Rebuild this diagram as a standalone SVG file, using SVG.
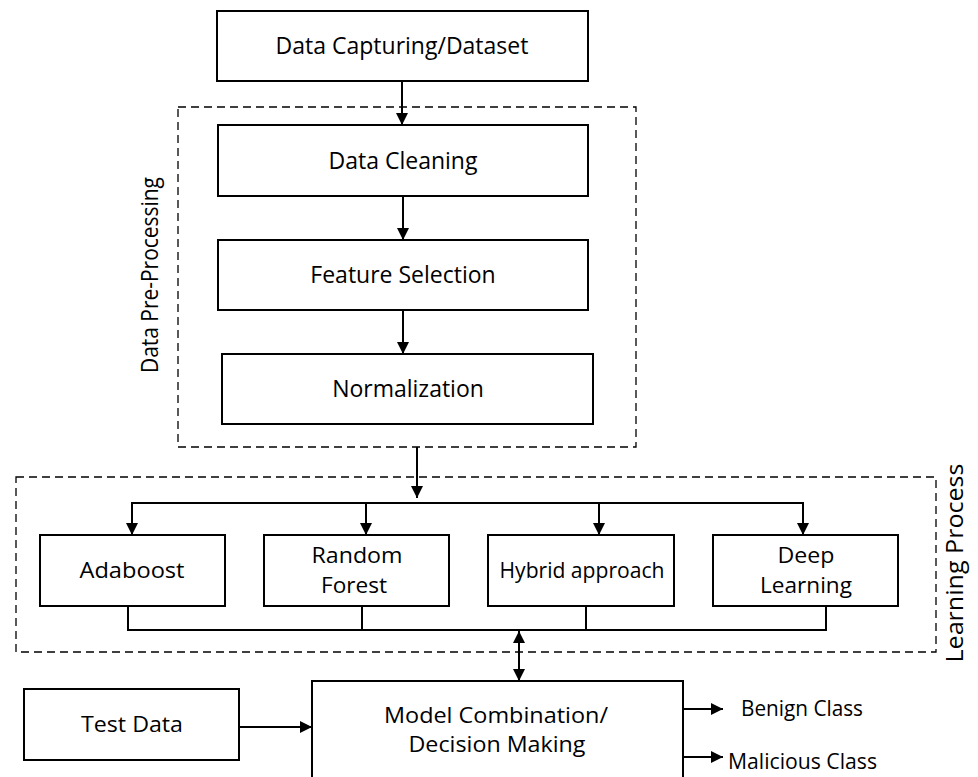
<svg xmlns="http://www.w3.org/2000/svg" width="978" height="777" viewBox="0 0 978 777">
<defs>
<marker id="ah" viewBox="0 0 12 12" refX="12" refY="6" markerWidth="12" markerHeight="12" markerUnits="userSpaceOnUse" orient="auto-start-reverse">
<path d="M0,0 L12,6 L0,12 z" fill="#000"/>
</marker>
<style>
.box{fill:#fff;stroke:#000;stroke-width:2}
.dash{fill:none;stroke:#000;stroke-width:1.3;stroke-dasharray:8,5}
.ln{fill:none;stroke:#000;stroke-width:2}
.t{font-family:"Open Sans","Noto Sans",sans-serif;font-size:23px;fill:#000;text-anchor:middle}
.n{font-family:"Open Sans","Noto Sans",sans-serif;font-size:22px;fill:#000;text-anchor:middle}
.s{font-family:"Open Sans","Noto Sans",sans-serif;font-size:21px;fill:#000}
</style>
</defs>
<rect width="978" height="777" fill="#fff"/>
<g id="preprocessing-group">
<rect class="dash" x="178" y="107" width="458" height="340"/>
<text class="t" font-size="21" transform="translate(151,275) rotate(-90)" dy="7" textLength="196" lengthAdjust="spacingAndGlyphs">Data Pre-Processing</text>
</g>
<g id="learning-group">
<rect class="dash" x="16" y="477" width="920" height="175"/>
<text class="t" font-size="19" transform="translate(957,563) rotate(-90)" dy="6" textLength="199" lengthAdjust="spacingAndGlyphs">Learning Process</text>
</g>
<g id="data-capturing">
<rect class="box" x="217" y="11" width="371" height="70"/>
<text class="t" x="402" y="54">Data Capturing/Dataset</text>
</g>
<g id="data-cleaning">
<rect class="box" x="218" y="125" width="370" height="71"/>
<text class="t" x="403" y="169">Data Cleaning</text>
</g>
<g id="feature-selection">
<rect class="box" x="218" y="240" width="370" height="70"/>
<text class="t" x="403" y="283">Feature Selection</text>
</g>
<g id="normalization">
<rect class="box" x="222" y="354" width="371" height="70"/>
<text class="t" x="408" y="397">Normalization</text>
</g>
<g id="adaboost">
<rect class="box" x="40" y="535" width="185" height="71"/>
<text class="n" x="132" y="578" font-size="23" textLength="105" lengthAdjust="spacingAndGlyphs">Adaboost</text>
</g>
<g id="random-forest">
<rect class="box" x="264" y="535" width="185" height="71"/>
<text class="n" x="357" y="563" textLength="91" lengthAdjust="spacingAndGlyphs">Random</text>
<text class="n" x="354" y="593" textLength="66" lengthAdjust="spacingAndGlyphs">Forest</text>
</g>
<g id="hybrid-approach">
<rect class="box" x="488" y="535" width="186" height="71"/>
<text class="n" x="582" y="578" font-size="20" textLength="165" lengthAdjust="spacingAndGlyphs">Hybrid approach</text>
</g>
<g id="deep-learning">
<rect class="box" x="713" y="535" width="185" height="71"/>
<text class="n" x="806" y="563" textLength="57" lengthAdjust="spacingAndGlyphs">Deep</text>
<text class="n" x="806" y="593" textLength="92" lengthAdjust="spacingAndGlyphs">Learning</text>
</g>
<g id="test-data">
<rect class="box" x="24" y="689" width="215" height="71"/>
<text class="n" x="132" y="732" font-size="23" textLength="102" lengthAdjust="spacingAndGlyphs">Test Data</text>
</g>
<g id="model-combination">
<rect class="box" x="312" y="681" width="371" height="110"/>
<text class="n" x="496" y="723" textLength="224" lengthAdjust="spacingAndGlyphs">Model Combination/</text>
<text class="n" x="497" y="752" textLength="177" lengthAdjust="spacingAndGlyphs">Decision Making</text>
</g>
<g id="benign-class">
<text class="s" x="741" y="716" textLength="122" lengthAdjust="spacingAndGlyphs">Benign Class</text>
</g>
<g id="malicious-class">
<text class="s" x="728" y="769" textLength="149" lengthAdjust="spacingAndGlyphs">Malicious Class</text>
</g>
<g id="connectors">
<line class="ln" x1="402" y1="81" x2="402" y2="125" marker-end="url(#ah)"/>
<line class="ln" x1="403" y1="196" x2="403" y2="240" marker-end="url(#ah)"/>
<line class="ln" x1="403" y1="310" x2="403" y2="354" marker-end="url(#ah)"/>
<line class="ln" x1="417" y1="447" x2="417" y2="498" marker-end="url(#ah)"/>
<polyline class="ln" points="132,535 132,503 803,503 803,535" marker-start="url(#ah)" marker-end="url(#ah)"/>
<line class="ln" x1="366" y1="503" x2="366" y2="535" marker-end="url(#ah)"/>
<line class="ln" x1="599" y1="503" x2="599" y2="535" marker-end="url(#ah)"/>
<polyline class="ln" points="128,606 128,630 826,630 826,606"/>
<line class="ln" x1="362" y1="606" x2="362" y2="630"/>
<line class="ln" x1="586" y1="606" x2="586" y2="630"/>
<line class="ln" x1="519" y1="631" x2="519" y2="681" marker-start="url(#ah)" marker-end="url(#ah)"/>
<line class="ln" x1="239" y1="727" x2="312" y2="727" marker-end="url(#ah)"/>
<line class="ln" x1="683" y1="709" x2="723" y2="709" marker-end="url(#ah)"/>
<line class="ln" x1="683" y1="757" x2="723" y2="757" marker-end="url(#ah)"/>
</g>
</svg>
